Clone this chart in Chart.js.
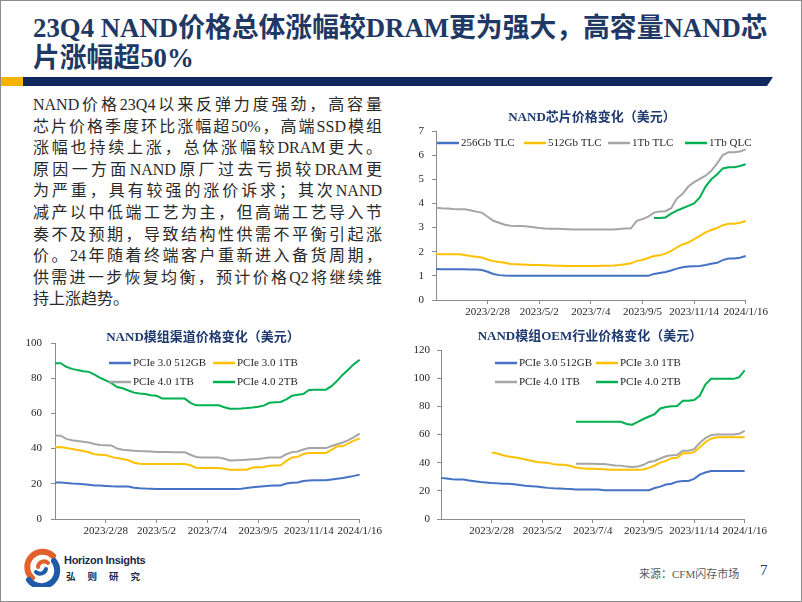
<!DOCTYPE html>
<html><head><meta charset="utf-8">
<script src="https://cdn.jsdelivr.net/npm/chart.js@4.4.1/dist/chart.umd.min.js"></script>
<style>
html,body{margin:0;padding:0;background:#fff;}
#slide{position:relative;width:802px;height:602px;overflow:hidden;background:#fff;}
.abs{position:absolute;}
#frame{left:0;top:0;width:802px;height:602px;box-sizing:border-box;border:1px solid #8c8c8c;pointer-events:none;}
#title{left:33px;top:13px;font-family:"Liberation Serif","Noto Sans CJK SC",serif;font-weight:bold;font-size:26.8px;line-height:30px;color:#1F3864;white-space:nowrap;}
#barY{left:1px;top:77px;width:22px;height:9px;background:#F5B400;}
#barN{left:23px;top:77px;width:750px;height:9px;background:#10285C;clip-path:polygon(0 0,100% 0,calc(100% - 6px) 100%,0 100%);}
#body{left:33px;top:94px;width:349px;font-family:"Liberation Serif","Noto Sans CJK SC",serif;font-size:16px;line-height:21.6px;color:#2a2a2a;}
#body .ln{text-align:justify;text-align-last:justify;height:21.6px;}
#body .last{text-align:left;text-align-last:left;}
canvas{position:absolute;}
#src{left:639px;top:565px;font-family:"Liberation Serif","Noto Sans CJK SC",serif;font-size:11px;color:#595959;white-space:nowrap;}
#pg{left:760px;top:562px;font-family:"Liberation Serif",serif;font-size:15px;color:#1F3864;}
#logoT1{left:64px;top:554px;font-family:"Liberation Sans","Roboto",sans-serif;font-weight:bold;font-size:11px;color:#1b2a4a;letter-spacing:-0.3px;white-space:nowrap;}
#logoT2{left:66px;top:569px;font-family:"Noto Sans CJK SC",sans-serif;font-weight:bold;font-size:9.5px;color:#1b2a4a;letter-spacing:12px;white-space:nowrap;}
</style>
</head>
<body>
<div id="slide">
  <div id="title" class="abs">23Q4 NAND价格总体涨幅较DRAM更为强大，高容量NAND芯<br>片涨幅超50%</div>
  <div id="barY" class="abs"></div>
  <div id="barN" class="abs"></div>
  <div id="body" class="abs">
    <div class="ln">NAND价格23Q4以来反弹力度强劲，高容量</div>
    <div class="ln">芯片价格季度环比涨幅超50%，高端SSD模组</div>
    <div class="ln">涨幅也持续上涨，总体涨幅较DRAM更大。</div>
    <div class="ln">原因一方面NAND原厂过去亏损较DRAM更</div>
    <div class="ln">为严重，具有较强的涨价诉求；其次NAND</div>
    <div class="ln">减产以中低端工艺为主，但高端工艺导入节</div>
    <div class="ln">奏不及预期，导致结构性供需不平衡引起涨</div>
    <div class="ln">价。24年随着终端客户重新进入备货周期，</div>
    <div class="ln">供需进一步恢复均衡，预计价格Q2将继续维</div>
    <div class="ln last">持上涨趋势。</div>
  </div>
  <canvas id="c1" width="370" height="217" style="left:400px;top:105px;width:370px;height:217px;"></canvas>
  <canvas id="c2" width="369" height="216" style="left:15px;top:325px;width:369px;height:216px;"></canvas>
  <canvas id="c3" width="368" height="216" style="left:401px;top:325px;width:368px;height:216px;"></canvas>
  <svg class="abs" style="left:20px;top:547px" width="42" height="40" viewBox="0 0 42 40">
    <path d="M33 9 A15 15 0 1 0 12 31" fill="none" stroke="#E2602C" stroke-width="6" stroke-linecap="round"/>
    <path d="M9 33 A15 15 0 0 0 34 14" fill="none" stroke="#1E5AA8" stroke-width="6" stroke-linecap="round"/>
    <path d="M18 20 A6 6 0 0 1 28 16" fill="none" stroke="#E2602C" stroke-width="4" stroke-linecap="round"/>
    <path d="M16 25 A6 6 0 0 0 26 22" fill="none" stroke="#1E5AA8" stroke-width="4" stroke-linecap="round"/>
  </svg>
  <div id="logoT1" class="abs">Horizon Insights</div>
  <div id="logoT2" class="abs">弘则研究</div>
  <div id="src" class="abs">来源：CFM闪存市场</div>
  <div id="pg" class="abs">7</div>
  <div id="frame" class="abs"></div>
</div>
<script>
// ---- categories (weekly) ----
const dates = ['2022/12/27','2023/1/3','2023/1/10','2023/1/17','2023/1/24','2023/1/31','2023/2/7','2023/2/14','2023/2/21','2023/2/28',
'2023/3/7','2023/3/14','2023/3/21','2023/3/28','2023/4/4','2023/4/11','2023/4/18','2023/4/25','2023/5/2',
'2023/5/9','2023/5/16','2023/5/23','2023/5/30','2023/6/6','2023/6/13','2023/6/20','2023/6/27','2023/7/4',
'2023/7/11','2023/7/18','2023/7/25','2023/8/1','2023/8/8','2023/8/15','2023/8/22','2023/8/29','2023/9/5',
'2023/9/12','2023/9/19','2023/9/26','2023/10/10','2023/10/17','2023/10/24','2023/10/31','2023/11/7','2023/11/14',
'2023/11/21','2023/11/28','2023/12/5','2023/12/12','2023/12/19','2023/12/26','2024/1/2','2024/1/9','2024/1/16'];
const tickDates = ['2023/2/28','2023/5/2','2023/7/4','2023/9/5','2023/11/14','2024/1/16'];

// ---- Chart 1: NAND芯片价格 (USD) ----
const chipLabels = ['256Gb TLC','512Gb TLC','1Tb TLC','1Tb QLC'];
const chip256 = [1.28,1.27,1.27,1.27,1.27,1.27,1.26,1.26,1.24,1.17,
1.08,1.03,1.01,1.00,1.00,1.00,1.00,1.00,1.00,1.00,
1.00,1.00,1.00,1.00,1.00,1.00,1.00,1.00,1.00,1.00,
1.00,1.00,1.00,1.00,1.00,1.00,1.00,1.00,1.08,1.12,
1.16,1.22,1.30,1.36,1.39,1.40,1.41,1.45,1.50,1.54,
1.65,1.72,1.72,1.75,1.82];
const chip512 = [1.92,1.89,1.89,1.89,1.89,1.86,1.82,1.79,1.76,1.68,
1.61,1.57,1.54,1.49,1.48,1.47,1.46,1.45,1.45,1.44,
1.43,1.42,1.42,1.41,1.41,1.41,1.41,1.41,1.41,1.42,
1.42,1.43,1.45,1.48,1.52,1.62,1.66,1.74,1.82,1.85,
1.92,2.03,2.18,2.30,2.38,2.52,2.66,2.80,2.90,2.98,
3.10,3.16,3.16,3.20,3.27];
const chip1tTLC = [3.82,3.80,3.79,3.77,3.76,3.76,3.72,3.66,3.62,3.45,
3.28,3.20,3.12,3.08,3.06,3.06,3.04,3.01,2.98,2.96,
2.95,2.95,2.94,2.93,2.92,2.92,2.92,2.92,2.92,2.92,
2.92,2.92,2.94,2.96,2.97,3.28,3.35,3.45,3.62,3.67,
3.68,3.80,4.20,4.40,4.70,4.88,5.02,5.15,5.35,5.65,
6.00,6.12,6.12,6.15,6.24];
const chip1tQLC = [null,null,null,null,null,null,null,null,null,null,
null,null,null,null,null,null,null,null,null,null,
null,null,null,null,null,null,null,null,null,null,
null,null,null,null,null,null,null,null,3.40,3.40,
3.42,3.58,3.70,3.80,3.90,4.00,4.25,4.70,5.00,5.20,
5.45,5.50,5.50,5.55,5.62];

// ---- Chart 2: NAND模组渠道价格 (USD) ----
const modLabels = ['PCIe 3.0 512GB','PCIe 3.0 1TB','PCIe 4.0 1TB','PCIe 4.0 2TB'];
const chan3_512 = [20.8,20.7,20.5,20.2,20.0,19.7,19.4,19.1,19.0,18.8,
18.6,18.5,18.5,18.5,17.8,17.5,17.3,17.2,17.1,17.1,
17.1,17.1,17.1,17.0,17.0,17.0,17.0,17.0,17.0,17.0,
17.0,17.0,17.0,17.2,17.6,18.0,18.3,18.6,18.9,19.0,
19.1,20.2,20.6,20.8,21.6,21.9,22.0,22.0,22.0,22.5,
22.9,23.3,23.9,24.5,25.2];
const chan3_1t = [40.7,40.9,40.3,39.8,39.2,38.6,37.9,36.8,36.5,36.3,
35.3,34.6,34.1,33.4,32.0,31.4,31.3,31.3,31.3,31.3,
31.3,31.3,31.3,31.3,30.5,29.1,29.0,29.0,29.0,29.0,
28.5,28.0,28.0,28.0,28.0,29.2,29.4,29.5,30.2,30.4,
30.5,33.0,35.0,35.3,36.9,37.5,37.5,37.5,37.5,39.3,
41.3,41.3,43.0,44.5,45.8];
const chan4_1t = [47.5,47.3,45.5,44.8,44.3,43.9,43.5,42.6,42.0,41.9,
41.8,40.0,39.3,39.1,38.8,38.6,38.5,38.3,38.0,38.0,
38.0,37.9,37.9,37.9,36.5,35.2,35.0,35.0,35.0,35.0,
34.2,33.3,33.4,33.5,33.7,33.9,34.1,34.5,35.0,35.0,
35.0,36.8,38.0,38.4,39.5,40.3,40.3,40.3,40.3,41.5,
42.5,43.5,44.8,46.5,48.5];
const chan4_2t = [88.5,88.5,86.5,85.3,84.6,84.0,83.6,82.0,80.2,78.8,
77.2,75.0,74.3,73.0,71.8,71.3,71.0,70.3,70.0,68.5,
68.4,68.4,68.4,68.4,66.0,64.6,64.6,64.6,64.6,64.6,
63.5,62.7,62.7,62.8,63.0,63.3,63.8,64.4,66.0,66.3,
66.5,68.0,70.0,70.6,71.0,73.3,73.5,73.5,73.5,75.5,
78.5,82.0,85.0,88.0,90.5];

// ---- Chart 3: NAND模组OEM行业价格 (USD) ----
const oem3_512 = [29.2,28.8,28.3,28.1,28.1,27.3,26.8,26.3,26.0,25.6,
25.3,25.1,25.0,24.7,24.1,23.6,23.3,23.0,22.6,22.1,
21.8,21.6,21.4,21.3,21.0,21.0,21.0,21.0,21.0,20.5,
20.5,20.5,20.5,20.5,20.5,20.5,20.5,20.5,22.0,23.0,
24.5,25.0,26.5,27.0,27.0,28.5,31.5,33.0,34.0,34.0,
34.0,34.0,34.0,34.0,34.0];
const oem3_1t = [null,null,null,null,null,null,null,null,null,47.3,
46.5,45.3,44.4,43.9,43.2,42.3,41.4,40.5,40.1,40.0,
38.8,38.6,38.5,37.6,36.6,36.0,35.7,35.6,35.5,35.4,
35.0,35.0,35.0,35.0,35.0,35.0,35.2,36.3,38.0,40.0,
41.3,43.2,43.5,46.6,46.6,47.5,51.0,54.5,57.0,58.0,
58.0,58.0,58.0,58.0,58.0];
const oem4_1t = [null,null,null,null,null,null,null,null,null,null,
null,null,null,null,null,null,null,null,null,null,
null,null,null,null,39.3,39.2,39.2,39.2,39.1,39.0,
38.5,38.0,37.9,37.2,36.9,37.2,38.5,40.5,41.2,43.0,
44.5,45.3,45.5,48.5,48.5,49.5,54.0,57.5,59.5,60.0,
60.0,60.0,60.0,60.5,62.5];
const oem4_2t = [null,null,null,null,null,null,null,null,null,null,
null,null,null,null,null,null,null,null,null,null,
null,null,null,null,69.0,69.0,69.0,69.0,69.0,69.0,
69.0,69.0,69.0,67.5,67.0,69.0,71.0,72.8,74.5,78.5,
79.5,80.0,80.3,84.0,84.0,84.5,87.5,95.5,99.5,99.5,
99.5,99.5,99.5,100.5,105.5];

const colors = ['#4472C4','#FFC000','#A5A5A5','#00B050'];
const FONT = '"Liberation Serif", "Noto Sans CJK SC", serif';
Chart.defaults.font.family = FONT;
Chart.defaults.color = '#262626';

// draws the chart title and the in-plot legend at fixed spots
const overlayLegend = {
  id: 'overlayLegend',
  afterDraw(chart, args, opts) {
    const ctx = chart.ctx;
    ctx.save();
    ctx.font = 'bold 13px ' + FONT;
    ctx.fillStyle = '#1F3A70';
    ctx.textAlign = 'center';
    ctx.textBaseline = 'middle';
    ctx.fillText(opts.title, opts.titlePos[0], opts.titlePos[1]);
    ctx.font = '11px ' + FONT;
    ctx.textAlign = 'left';
    opts.items.forEach((it, i) => {
      const ds = chart.data.datasets[i];
      ctx.strokeStyle = ds.borderColor;
      ctx.lineWidth = 2.5;
      ctx.beginPath();
      ctx.moveTo(it[0], it[1]);
      ctx.lineTo(it[0] + 22, it[1]);
      ctx.stroke();
      ctx.fillStyle = '#262626';
      ctx.fillText(ds.label, it[0] + 24, it[1] + 0.5);
    });
    ctx.restore();
  }
};

function makeChart(id, title, titlePos, labels, series, yMax, yStep, yWidth, yPad, padTop, legendItems) {
  const datasets = series.map((s, i) => ({
    label: labels[i], data: s, borderColor: colors[i], backgroundColor: colors[i],
    borderWidth: 2, pointRadius: 0, tension: 0, spanGaps: false, fill: false
  }));
  return new Chart(document.getElementById(id), {
    type: 'line',
    data: { labels: dates, datasets },
    plugins: [overlayLegend],
    options: {
      responsive: false, animation: false, devicePixelRatio: 1,
      layout: { padding: { left: 0, right: 22, top: padTop, bottom: 0 } },
      plugins: {
        legend: { display: false },
        tooltip: { enabled: false },
        title: { display: false },
        overlayLegend: { items: legendItems, title: title, titlePos: titlePos }
      },
      scales: {
        x: {
          offset: false,
          border: { display: true, color: '#8c8c8c', width: 1 },
          grid: { display: true, drawOnChartArea: false, drawTicks: true, tickLength: 4, color: '#8c8c8c' },
          ticks: {
            autoSkip: false, maxRotation: 0, minRotation: 0, padding: 2,
            font: { size: 11 }, color: '#262626',
            callback: function(v) { const l = this.getLabelForValue(v); return tickDates.includes(l) ? l : null; }
          },
          afterFit: (s) => { s.height = 22; }
        },
        y: {
          min: 0, max: yMax,
          border: { display: true, color: '#8c8c8c', width: 1 },
          grid: { display: true, drawOnChartArea: false, drawTicks: true, tickLength: 4, color: '#8c8c8c' },
          ticks: { stepSize: yStep, padding: yPad, font: { size: 11 }, color: '#262626' },
          afterFit: (s) => { s.width = yWidth; }
        }
      }
    }
  });
}

makeChart('c1', 'NAND芯片价格变化（美元）', [192, 13], chipLabels, [chip256, chip512, chip1tTLC, chip1tQLC],
  7, 1, 36, 8, 26, [[37, 38], [124, 38], [208, 38], [285, 38]]);
makeChart('c2', 'NAND模组渠道价格变化（美元）', [188, 13], modLabels, [chan3_512, chan3_1t, chan4_1t, chan4_2t],
  100, 20, 40, 9, 18, [[94, 38], [198, 38], [94, 57], [198, 57]]);
makeChart('c3', 'NAND模组OEM行业价格变化（美元）', [189, 12], modLabels, [oem3_512, oem3_1t, oem4_1t, oem4_2t],
  120, 20, 40, 7, 25, [[94, 38], [195, 38], [94, 57], [195, 57]]);
</script>
</body></html>
